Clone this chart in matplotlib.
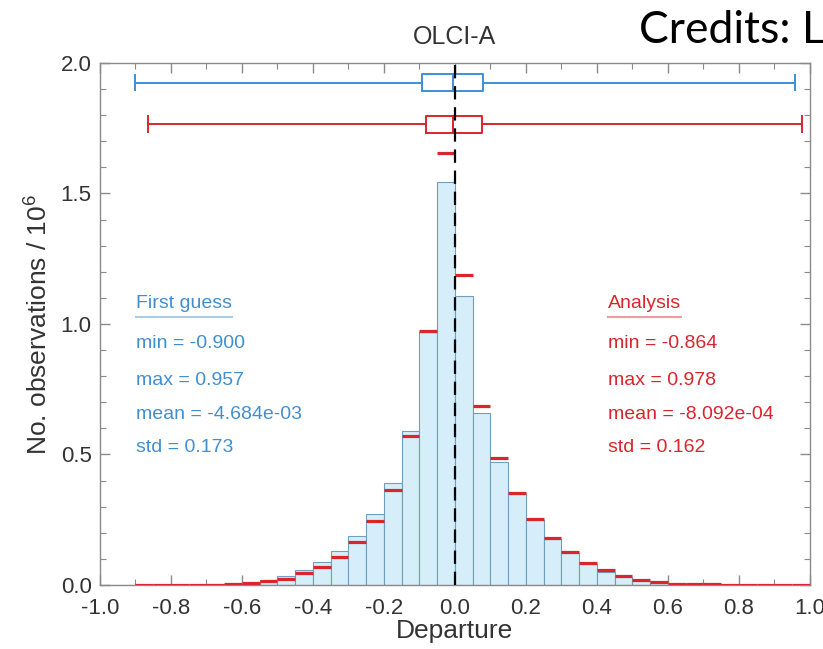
import numpy as np
import matplotlib
matplotlib.use("Agg")
import matplotlib.pyplot as plt
from matplotlib.ticker import MultipleLocator, FormatStrFormatter

plt.rcParams["font.family"] = ["Liberation Sans", "DejaVu Sans"]
plt.rcParams["mathtext.fontset"] = "custom"
plt.rcParams["mathtext.rm"] = "Liberation Sans"
plt.rcParams["mathtext.it"] = "Liberation Sans"

# Departure bins (left edges), width 0.05 over [-1, 1]
bin_width = 0.05
bin_lefts = np.round(np.arange(-1.0, 1.0, bin_width), 2)

# Counts per bin, in millions of observations
first_guess = [0.0, 0.0, 0.0003, 0.0005, 0.0008, 0.0012, 0.002, 0.004,
               0.008, 0.019, 0.034, 0.057, 0.088, 0.130, 0.189, 0.272,
               0.392, 0.591, 0.969, 1.544, 1.107, 0.659, 0.471, 0.349,
               0.249, 0.176, 0.123, 0.082, 0.051, 0.031, 0.016, 0.009,
               0.005, 0.003, 0.002, 0.001, 0.0007, 0.0004, 0.0002, 0.0001]
analysis = [0.0, 0.0, 0.0002, 0.0004, 0.0006, 0.0009, 0.0015, 0.003,
            0.0065, 0.014, 0.023, 0.045, 0.070, 0.109, 0.163, 0.245,
            0.364, 0.571, 0.973, 1.655, 1.188, 0.686, 0.487, 0.352,
            0.253, 0.180, 0.126, 0.086, 0.056, 0.033, 0.018, 0.010,
            0.005, 0.003, 0.002, 0.0012, 0.0008, 0.0005, 0.0003, 0.0002]

# Box-and-whisker summaries
fg_box = dict(whislo=-0.900, q1=-0.093, med=-0.006, q3=0.079, whishi=0.957)
an_box = dict(whislo=-0.864, q1=-0.082, med=-0.005, q3=0.076, whishi=0.978)

fg_stats = ["First guess", "min = -0.900", "max = 0.957",
            "mean = -4.684e-03", "std = 0.173"]
an_stats = ["Analysis", "min = -0.864", "max = 0.978",
            "mean = -8.092e-04", "std = 0.162"]

blue = "#3f8fd2"
red = "#d8262c"
bar_fill = "#d5eef9"
bar_edge = "#6f9fbd"
frame = "#8a8a8a"
text_col = "#333333"

fig = plt.figure(figsize=(8.23, 6.49), dpi=100)
ax = fig.add_axes([0.1215, 0.0986, 0.8625, 0.8044])

ax.bar(bin_lefts, first_guess, width=bin_width, align="edge",
       color=bar_fill, edgecolor=bar_edge, linewidth=0.8, zorder=2)

an = np.array(analysis)
mask = an > 0
ax.hlines(an[mask], bin_lefts[mask], bin_lefts[mask] + bin_width,
          colors=red, linewidth=2.3, zorder=3)

# Box plots above the histogram
for stats, pos, col in [(fg_box, 1.925, blue), (an_box, 1.765, red)]:
    lp = dict(color=col, linewidth=1.4)
    ax.bxp([stats], positions=[pos], widths=0.065, orientation="horizontal",
           showfliers=False, manage_ticks=False, capwidths=0.06,
           boxprops=lp, whiskerprops=lp, capprops=lp, medianprops=lp,
           zorder=3)

ax.axvline(0.0, color="black", linestyle=(0, (6, 3.5)), linewidth=1.6,
           zorder=4)

ax.set_xlim(-1.0, 1.0)
ax.set_ylim(0.0, 2.0)
ax.xaxis.set_major_locator(MultipleLocator(0.2))
ax.xaxis.set_minor_locator(MultipleLocator(0.1))
ax.yaxis.set_major_locator(MultipleLocator(0.5))
ax.yaxis.set_minor_locator(MultipleLocator(0.1))
ax.xaxis.set_major_formatter(FormatStrFormatter("%.1f"))
ax.yaxis.set_major_formatter(FormatStrFormatter("%.1f"))
ax.tick_params(which="both", direction="in", top=True, right=True,
               color=frame, labelcolor=text_col, labelsize=16)
ax.tick_params(axis="x", which="both", pad=9)
ax.tick_params(axis="y", which="both", pad=6)
ax.tick_params(which="major", length=7, width=1)
ax.tick_params(which="minor", length=4, width=0.8)
for s in ax.spines.values():
    s.set_color(frame)
    s.set_linewidth(1.0)

ax.set_xlabel("Departure", fontsize=19, color=text_col, labelpad=0)
ax.set_ylabel(r"No. observations / 10$^{6}$", fontsize=19, color=text_col,
              labelpad=6)
ax.set_title("OLCI-A", fontsize=18, color=text_col, pad=14)

fig.text(0.776, 0.953, "Credits: L", fontsize=32, family=["Lato", "DejaVu Sans"],
         color="black", va="center", ha="left")

# Summary statistics blocks
line_ys = [1.08, 0.927, 0.785, 0.655, 0.525]
headers = []
for x0, lines, col in [(-0.899, fg_stats, blue), (0.431, an_stats, red)]:
    for i, (txt, yv) in enumerate(zip(lines, line_ys)):
        t = ax.text(x0, yv, txt, color=col, fontsize=14, va="center",
                    ha="left", zorder=5)
        if i == 0:
            headers.append((t, col))

fig.canvas.draw()
inv = ax.transData.inverted()
for t, col in headers:
    bb = t.get_window_extent()
    (x_a, y_a), (x_b, _) = inv.transform([(bb.x0, bb.y0), (bb.x1, bb.y0)])
    ax.plot([x_a, x_b], [y_a - 0.022, y_a - 0.022], color=col, alpha=0.45,
            linewidth=1.5, zorder=5)

fig.savefig("out.png", dpi=100)
